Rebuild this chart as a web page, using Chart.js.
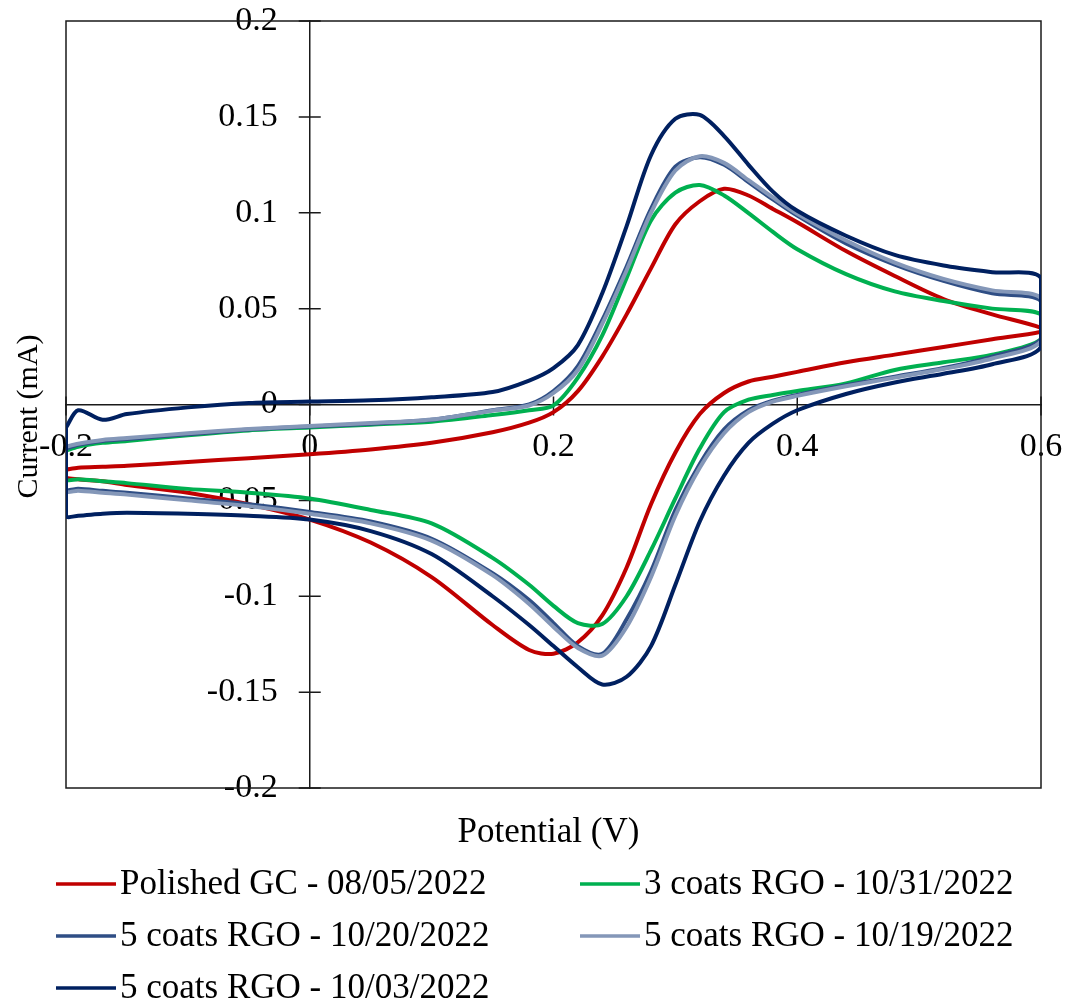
<!DOCTYPE html>
<html><head><meta charset="utf-8">
<script src="https://cdn.jsdelivr.net/npm/chart.js@4/dist/chart.umd.min.js"></script>
<style>html,body{margin:0;padding:0;background:#fff}canvas{display:block}</style>
</head><body>
<canvas id="c" width="1068" height="999"></canvas>
<script>
// ---- data (potential in V, current in mA) ----
const seriesLabels = [
  "Polished GC - 08/05/2022",
  "3 coats RGO - 10/31/2022",
  "5 coats RGO - 10/20/2022",
  "5 coats RGO - 10/19/2022",
  "5 coats RGO - 10/03/2022"
];
const xTickValues = [-0.2, 0, 0.2, 0.4, 0.6];
const yTickValues = [-0.2, -0.15, -0.1, -0.05, 0, 0.05, 0.1, 0.15, 0.2];

const forwardPotential = [-0.2, -0.19, -0.17, -0.15, -0.1, -0.05, 0, 0.05, 0.1, 0.15, 0.18, 0.2, 0.22, 0.24, 0.26, 0.28, 0.3, 0.32, 0.34, 0.36, 0.38, 0.4, 0.44, 0.48, 0.52, 0.56, 0.6];
const reversePotential = [0.6, 0.56, 0.52, 0.48, 0.44, 0.4, 0.38, 0.36, 0.34, 0.32, 0.3, 0.28, 0.26, 0.24, 0.22, 0.2, 0.18, 0.15, 0.1, 0.05, 0, -0.05, -0.1, -0.15, -0.17, -0.19, -0.2];

const polishedForward = [-0.034, -0.033, -0.0325, -0.032, -0.030, -0.028, -0.026, -0.0235, -0.020, -0.0145, -0.0095, -0.004, 0.007, 0.025, 0.047, 0.071, 0.094, 0.106, 0.1125, 0.109, 0.102, 0.095, 0.080, 0.067, 0.055, 0.047, 0.040];
const polishedReverse = [0.038, 0.034, 0.030, 0.026, 0.022, 0.017, 0.0145, 0.012, 0.006, -0.005, -0.025, -0.052, -0.085, -0.110, -0.124, -0.130, -0.128, -0.115, -0.090, -0.072, -0.060, -0.052, -0.046, -0.042, -0.040, -0.039, -0.038];

const greenForward = [-0.024, -0.022, -0.020, -0.019, -0.016, -0.0135, -0.012, -0.0105, -0.009, -0.0055, -0.003, -0.0005, 0.014, 0.036, 0.066, 0.096, 0.1105, 0.1145, 0.109, 0.0998, 0.090, 0.081, 0.068, 0.059, 0.054, 0.050, 0.047];
const greenReverse = [0.034, 0.026, 0.022, 0.018, 0.011, 0.007, 0.005, 0.0025, -0.004, -0.023, -0.049, -0.076, -0.100, -0.1145, -0.114, -0.105, -0.094, -0.080, -0.062, -0.055, -0.049, -0.046, -0.044, -0.041, -0.040, -0.039, -0.039];

const coats1020Forward = [-0.023, -0.021, -0.019, -0.018, -0.0155, -0.013, -0.0115, -0.010, -0.008, -0.003, 0.000, 0.007, 0.020, 0.044, 0.072, 0.102, 0.124, 0.129, 0.125, 0.116, 0.107, 0.0985, 0.084, 0.073, 0.0645, 0.058, 0.054];
const coats1020Reverse = [0.034, 0.025, 0.019, 0.0145, 0.010, 0.005, 0.002, -0.003, -0.013, -0.031, -0.055, -0.087, -0.112, -0.130, -0.126, -0.114, -0.102, -0.088, -0.070, -0.061, -0.056, -0.052, -0.049, -0.046, -0.045, -0.044, -0.044];

const coats1019Forward = [-0.022, -0.0205, -0.0185, -0.0175, -0.015, -0.0128, -0.0112, -0.0097, -0.0078, -0.0032, -0.0005, 0.006, 0.018, 0.042, 0.070, 0.100, 0.122, 0.1295, 0.126, 0.117, 0.108, 0.0995, 0.0855, 0.074, 0.0655, 0.0595, 0.0555];
const coats1019Reverse = [0.033, 0.024, 0.0185, 0.014, 0.0095, 0.0045, 0.0015, -0.004, -0.015, -0.033, -0.058, -0.090, -0.116, -0.131, -0.127, -0.116, -0.104, -0.089, -0.071, -0.062, -0.057, -0.053, -0.050, -0.047, -0.046, -0.045, -0.045];

const coats1003Forward = [-0.012, -0.003, -0.008, -0.005, -0.0015, 0.0008, 0.0015, 0.0022, 0.0038, 0.0065, 0.0125, 0.019, 0.031, 0.058, 0.093, 0.130, 0.149, 0.151, 0.140, 0.125, 0.111, 0.101, 0.088, 0.078, 0.0725, 0.069, 0.066];
const coats1003Reverse = [0.030, 0.021, 0.016, 0.0115, 0.0055, -0.003, -0.010, -0.020, -0.037, -0.061, -0.094, -0.126, -0.142, -0.146, -0.137, -0.126, -0.115, -0.100, -0.078, -0.066, -0.060, -0.058, -0.057, -0.0565, -0.057, -0.058, -0.058];

// ---- build scan loops from the arrays ----
function scanLoop(fwd, rev) {
  const pts = [];
  forwardPotential.forEach((v, i) => pts.push({x: v, y: fwd[i]}));
  reversePotential.forEach((v, i) => pts.push({x: v, y: rev[i]}));
  pts.push({x: forwardPotential[0], y: fwd[0]});
  return pts;
}

const seriesColors = ['#C00000', '#00B050', '#2F4E85', '#8497B8', '#002060'];
const seriesData = [
  scanLoop(polishedForward, polishedReverse),
  scanLoop(greenForward, greenReverse),
  scanLoop(coats1020Forward, coats1020Reverse),
  scanLoop(coats1019Forward, coats1019Reverse),
  scanLoop(coats1003Forward, coats1003Reverse)
];
const drawOrder = [5, 4, 3, 2, 1];

const FONT = "'Times New Roman', 'Liberation Serif', serif";
const fmt = v => String(parseFloat(Number(v).toFixed(2)));
const AXIS = '#1a1a1a';

const decor = {
  id: 'decor',
  beforeDatasetsDraw(chart) {
    const {ctx, chartArea: a, scales: {x, y}} = chart;
    ctx.save();
    ctx.strokeStyle = AXIS;
    ctx.lineWidth = 1.5;
    ctx.strokeRect(a.left, a.top, a.right - a.left, a.bottom - a.top);
    const x0 = x.getPixelForValue(0), y0 = y.getPixelForValue(0);
    ctx.beginPath();
    x.ticks.forEach(t => { const px = x.getPixelForValue(t.value); ctx.moveTo(px, y0 - 8); ctx.lineTo(px, y0 + 11); });
    y.ticks.forEach(t => { const py = y.getPixelForValue(t.value); ctx.moveTo(x0 - 11, py); ctx.lineTo(x0 + 11, py); });
    ctx.stroke();
    ctx.restore();
  },
  afterDraw(chart) {
    const {ctx, chartArea: a} = chart;
    ctx.save();
    ctx.fillStyle = '#000';
    // axis titles
    ctx.font = "35px " + FONT;
    ctx.textAlign = 'center';
    ctx.textBaseline = 'middle';
    ctx.fillText('Potential (V)', (a.left + a.right) / 2 - 5, a.bottom + 45);
    ctx.save();
    ctx.translate(29, (a.top + a.bottom) / 2 + 12);
    ctx.rotate(-Math.PI / 2);
    ctx.font = "30px " + FONT;
    ctx.fillText('Current (mA)', 0, 0);
    ctx.restore();
    // legend (2 columns)
    ctx.font = "35px " + FONT;
    ctx.textAlign = 'left';
    const colX = [56, 580], rowY = [884, 936, 988];
    chart.data.datasets.forEach((ds, i) => {
      const cx = colX[i % 2], cy = rowY[Math.floor(i / 2)];
      ctx.fillStyle = ds.borderColor;
      ctx.fillRect(cx, cy - 1.75, 60, 3.5);
      ctx.fillStyle = '#000';
      ctx.fillText(ds.label, cx + 64, cy + 1);
    });
    ctx.restore();
  }
};

const tickFont = {family: FONT, size: 34};

new Chart(document.getElementById('c'), {
  type: 'scatter',
  data: {
    datasets: seriesLabels.map((lab, i) => ({
      label: lab,
      data: seriesData[i],
      showLine: true,
      borderColor: seriesColors[i],
      backgroundColor: seriesColors[i],
      borderWidth: 4,
      pointRadius: 0,
      pointHoverRadius: 0,
      tension: 0.3,
      fill: false,
      order: drawOrder[i]
    }))
  },
  options: {
    responsive: false,
    animation: false,
    devicePixelRatio: 1,
    layout: {padding: {left: 66, right: 27, top: 21, bottom: 211}},
    plugins: {legend: {display: false}, tooltip: {enabled: false}},
    scales: {
      x: {
        type: 'linear',
        min: -0.2, max: 0.6,
        position: {yLine: 0},
        afterBuildTicks: s => { s.ticks = xTickValues.map(v => ({value: v})); },
        grid: {display: true, drawOnChartArea: false, drawTicks: true, tickLength: 22, color: 'rgba(0,0,0,0)'},
        border: {display: true, color: AXIS, width: 1.5},
        ticks: {callback: fmt, color: '#000', font: tickFont, padding: 0, maxRotation: 0, autoSkip: false}
      },
      y: {
        type: 'linear',
        min: -0.2, max: 0.2,
        position: {x: -0.0263},
        afterBuildTicks: s => { s.ticks = yTickValues.map(v => ({value: v})); },
        grid: {display: false, drawTicks: false},
        border: {display: false},
        ticks: {callback: fmt, color: '#000', font: tickFont, padding: 0, autoSkip: false}
      },
      yLine: {
        type: 'linear',
        axis: 'y',
        min: -0.2, max: 0.2,
        position: {x: 0},
        grid: {display: false, drawTicks: false},
        border: {display: true, color: AXIS, width: 1.5},
        ticks: {display: false}
      }
    }
  },
  plugins: [decor]
});
</script>
</body></html>
